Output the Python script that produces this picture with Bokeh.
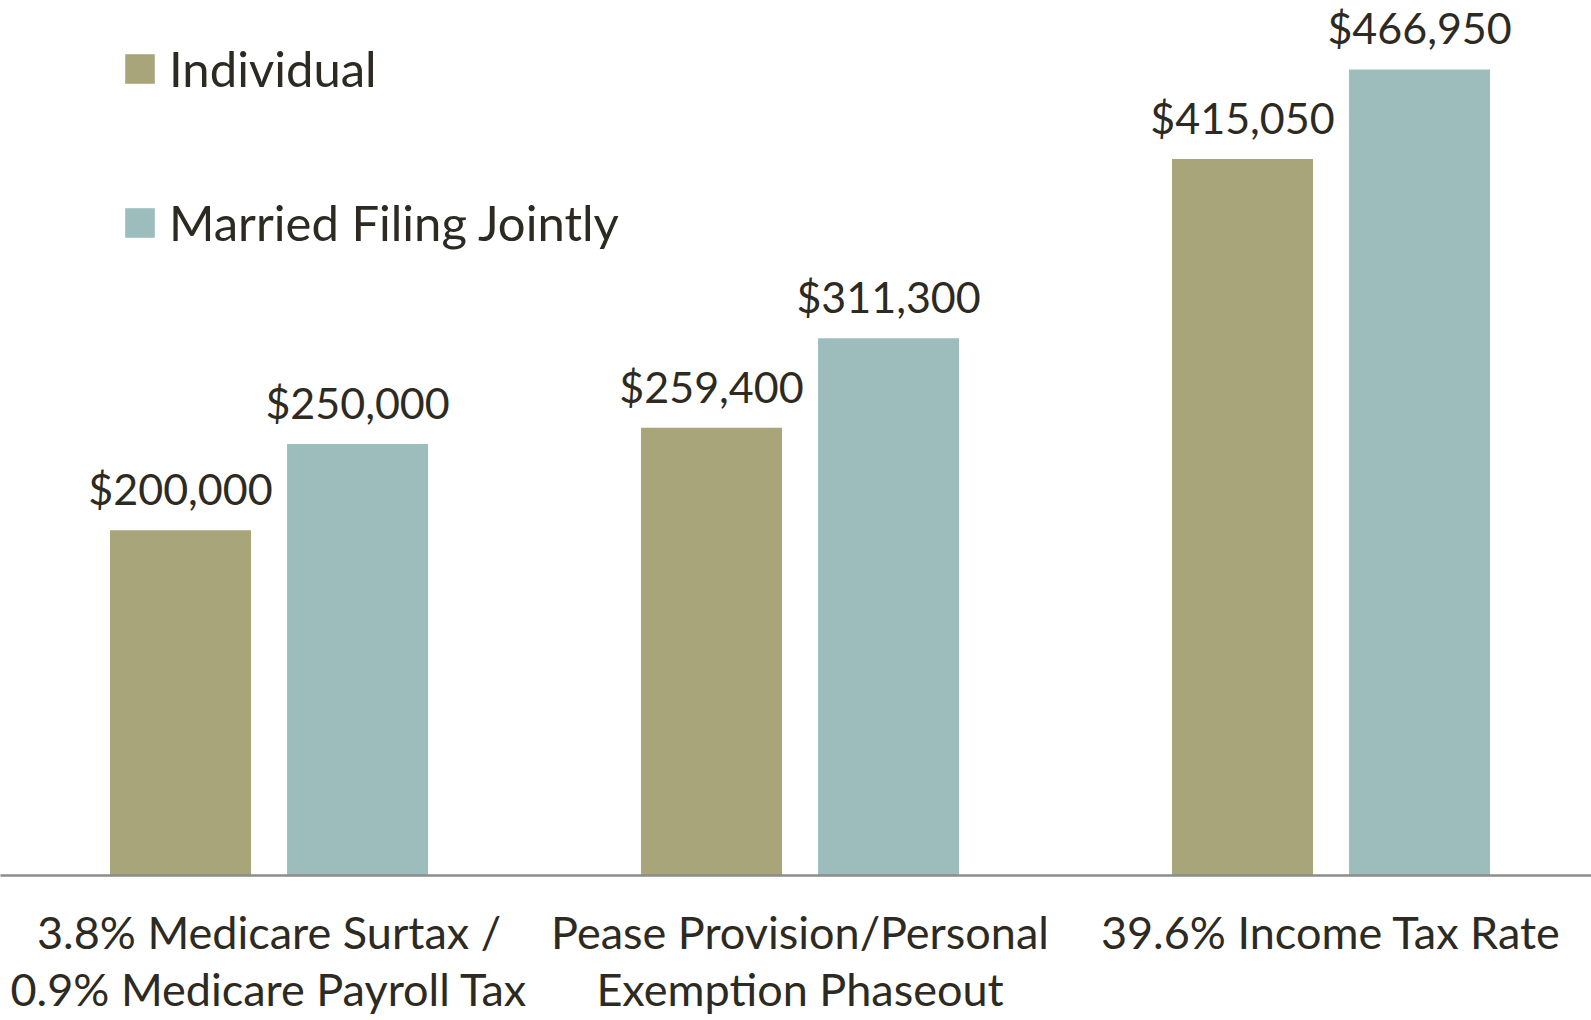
from bokeh.plotting import figure
from bokeh.models import ColumnDataSource, Range1d, LabelSet, FixedTicker
from bokeh.transform import dodge
from bokeh.core.properties import value
from bokeh.embed import file_html
from bokeh.resources import INLINE

# ---- data ----
categories = [
    "3.8% Medicare Surtax /\n0.9% Medicare Payroll Tax",
    "Pease Provision/Personal\nExemption Phaseout",
    "39.6% Income Tax Rate",
]
individual = [200000, 259400, 415050]
married_jointly = [250000, 311300, 466950]
series_names = ["Individual", "Married Filing Jointly"]

# ---- styles ----
FONT = "Lato"
TEXT_COLOR = "#2d2a22"
IND_COLOR = "#a8a57b"
MFJ_COLOR = "#9dbdbd"

xs = list(range(len(categories)))
src = ColumnDataSource(dict(
    x=xs,
    ind=individual,
    mfj=married_jointly,
    ind_label=["${:,}".format(v) for v in individual],
    mfj_label=["${:,}".format(v) for v in married_jointly],
))

p = figure(
    width=1591, height=1020,
    x_range=Range1d(-0.5057, 2.4905),
    y_range=Range1d(0, 506900),
    output_backend="svg", toolbar_location=None,
    y_axis_location=None,
    min_border_left=0, min_border_right=0, min_border_top=0, min_border_bottom=145,
)
p.outline_line_color = None
p.xgrid.visible = False
p.ygrid.visible = False
p.background_fill_color = "white"
p.border_fill_color = "white"

off = 0.1667
bw = 0.2655
p.vbar(x=dodge("x", -off), top="ind", width=bw, source=src,
       fill_color=IND_COLOR, line_color=None, legend_label=series_names[0])
p.vbar(x=dodge("x", off), top="mfj", width=bw, source=src,
       fill_color=MFJ_COLOR, line_color=None, legend_label=series_names[1])

for col, lab, sgn in (("ind", "ind_label", -1), ("mfj", "mfj_label", 1)):
    p.add_layout(LabelSet(
        x=dodge("x", sgn * off), y=col, text=lab, source=src,
        y_offset=25, text_align="center", text_baseline="alphabetic",
        text_font=value(FONT), text_font_size=value("43px"),
        text_color=TEXT_COLOR,
    ))

ax = p.xaxis[0]
ax.ticker = FixedTicker(ticks=xs)
ax.major_label_overrides = {i: c for i, c in zip(xs, categories)}
ax.axis_line_color = "#8c8c8c"
ax.axis_line_width = 2.5
ax.major_tick_line_color = None
ax.minor_tick_line_color = None
ax.major_tick_out = 0
ax.major_tick_in = 0
ax.major_label_text_font = FONT
ax.major_label_text_font_size = "45px"
ax.major_label_text_color = TEXT_COLOR
ax.major_label_standoff = 29
ax.major_label_text_line_height = 1.07

lg = p.legend[0]
lg.location = (121, 618)
lg.orientation = "vertical"
lg.padding = 0
lg.margin = 0
lg.spacing = 84
lg.label_height = 70
lg.glyph_width = 37
lg.glyph_height = 37
lg.label_standoff = 11
lg.label_text_font = FONT
lg.label_text_font_size = "49px"
lg.label_text_color = TEXT_COLOR
lg.border_line_color = None
lg.background_fill_alpha = 0

open("out.html", "w").write(file_html(p, INLINE))
